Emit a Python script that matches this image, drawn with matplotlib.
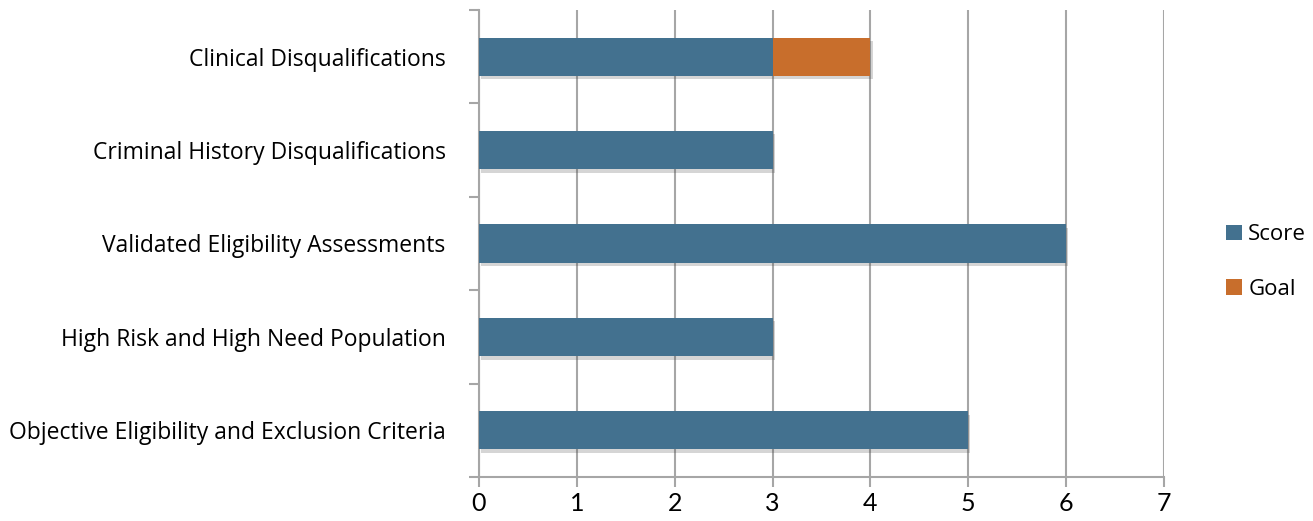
import matplotlib
matplotlib.use("Agg")
import matplotlib.pyplot as plt
import matplotlib.patheffects as pe
import numpy as np

categories = ["Objective Eligibility and Exclusion Criteria",
              "High Risk and High Need Population",
              "Validated Eligibility Assessments",
              "Criminal History Disqualifications",
              "Clinical Disqualifications"]
score = [5, 3, 6, 3, 3]
goal = [0, 0, 0, 0, 1]

BLUE = "#43718F"
ORANGE = "#C86E2C"
GRID = "#A6A6A6"

fig = plt.figure(figsize=(13.13, 5.21), dpi=100)
ax = fig.add_axes([479 / 1313, 44 / 521, (1164 - 479) / 1313, 467 / 521])

y = np.arange(len(categories))
shadow = [pe.SimplePatchShadow(offset=(1.5, -2.5), alpha=0.22, shadow_rgbFace="#444444"), pe.Normal()]
b1 = ax.barh(y, score, height=0.41, color=BLUE, label="Score", zorder=3)
b2 = ax.barh(y, goal, left=score, height=0.41, color=ORANGE, label="Goal", zorder=3)
for bar in list(b1) + list(b2):
    if bar.get_width() > 0:
        bar.set_path_effects(shadow)

ax.set_xlim(0, 7)
ax.set_ylim(-0.5, len(categories) - 0.5)
ax.set_xticks(range(8))
ax.set_yticks(y)
ax.set_yticklabels(categories, fontsize=16.5, family="Open Sans")
ax.set_yticks(np.arange(-0.5, len(categories), 1), minor=True)
ax.tick_params(axis="y", which="major", length=0, pad=24)
ax.tick_params(axis="y", which="minor", length=7, color=GRID, width=1.5)
ax.tick_params(axis="x", length=7, color=GRID, width=1.5, labelsize=18, pad=4)
for lbl in ax.get_xticklabels():
    lbl.set_family("Lato")

ax.grid(axis="x", color=GRID, linewidth=1.5, zorder=0)
for s in ["top", "right"]:
    ax.spines[s].set_visible(False)
for s in ["left", "bottom"]:
    ax.spines[s].set_color(GRID)
    ax.spines[s].set_linewidth(1.5)

leg = fig.legend(handles=[b1, b2], labels=["Score", "Goal"], loc="center left",
                 bbox_to_anchor=(1206 / 1313, 0.497), frameon=False,
                 prop={"family": "Open Sans", "size": 16},
                 handlelength=0.7, handleheight=0.7, handletextpad=0.3, labelspacing=1.5)
for h in leg.legend_handles:
    h.set_path_effects([])

fig.savefig("out.png", dpi=100)
